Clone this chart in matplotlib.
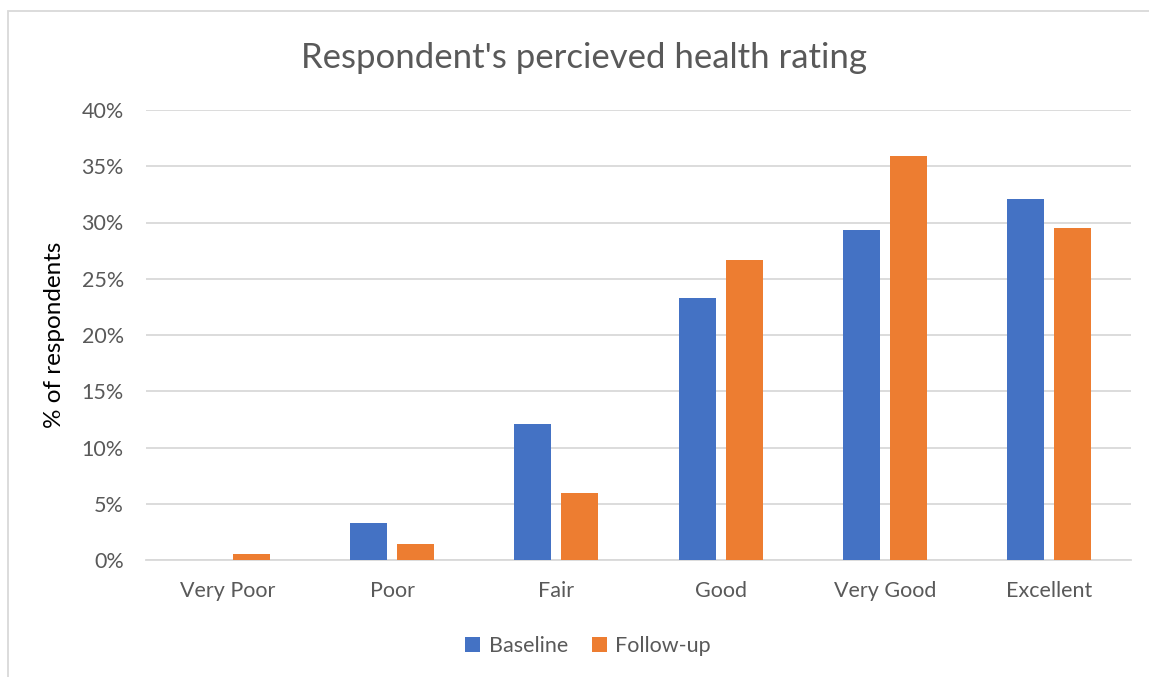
import matplotlib.pyplot as plt
from matplotlib.patches import Rectangle
from matplotlib.ticker import PercentFormatter
import numpy as np

plt.rcParams['font.family'] = ['Lato', 'DejaVu Sans']

# Data
categories = ['Very Poor', 'Poor', 'Fair', 'Good', 'Very Good', 'Excellent']
baseline = [0.0, 3.3, 12.1, 23.3, 29.3, 32.1]
follow_up = [0.5, 1.4, 6.0, 26.7, 35.9, 29.5]
y_ticks = [0, 5, 10, 15, 20, 25, 30, 35, 40]

text_col = '#595959'
grid_col = '#D9D9D9'

fig = plt.figure(figsize=(11.49, 6.77), dpi=100)
ax = fig.add_axes([146 / 1149, 1 - 560 / 677, (1131 - 146) / 1149, 450 / 677])

x = np.arange(len(categories))
w = 0.225
off = 0.143
ax.bar(x - off, baseline, w, color='#4472C4', label='Baseline', zorder=3)
ax.bar(x + off, follow_up, w, color='#ED7D31', label='Follow-up', zorder=3)

ax.set_xlim(-0.5, len(categories) - 0.5)
ax.set_ylim(0, 40)
ax.set_yticks(y_ticks)
ax.yaxis.set_major_formatter(PercentFormatter(decimals=0))
ax.set_xticks(x)
ax.set_xticklabels(categories)
ax.grid(axis='y', color=grid_col, linewidth=1.3, zorder=0)
ax.tick_params(length=0, labelsize=15.5, colors=text_col)
ax.tick_params(axis='x', pad=15)
ax.tick_params(axis='y', pad=16)
for s in ['top', 'right', 'left']:
    ax.spines[s].set_visible(False)
ax.spines['bottom'].set_color(grid_col)
ax.spines['bottom'].set_linewidth(1.3)

ax.set_ylabel('% of respondents', fontsize=17.5, color='black', labelpad=12)
fig.text(584 / 1149, 1 - 58 / 677, "Respondent's percieved health rating",
         ha='center', va='center', fontsize=25, color=text_col)

fig.legend(loc='center', bbox_to_anchor=(588 / 1149, 1 - 646 / 677), ncol=2,
           frameon=False, fontsize=15.5, handlelength=0.7, handleheight=0.7,
           columnspacing=1.1, handletextpad=0.4, labelcolor=text_col)

# outer chart frame
fig.patches.append(Rectangle((8 / 1149, -0.05), 1.1, (677 - 11) / 677 + 0.05,
                             transform=fig.transFigure, fill=False,
                             edgecolor=grid_col, linewidth=1.3))

fig.savefig('out.png', dpi=100)
